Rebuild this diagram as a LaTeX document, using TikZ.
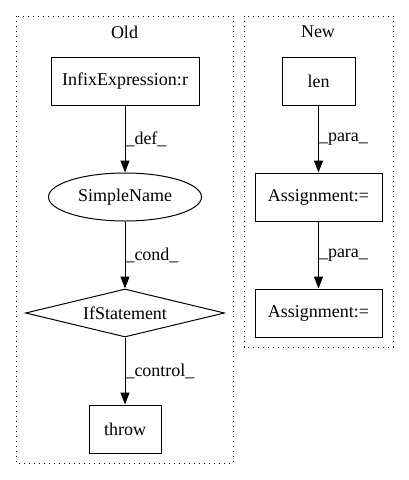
\documentclass[tikz,border=0pt]{standalone}
\usepackage{fontspec}
\setmainfont{Liberation Serif}
\usetikzlibrary{shapes.geometric,arrows.meta}
\begin{document}
\begin{tikzpicture}[x=1pt,y=-1pt,
  every node/.style={font=\fontsize{18pt}{20pt}\selectfont},
  box/.style={draw,line width=1pt,rectangle,minimum height=48pt,inner sep=0pt},
  oval/.style={draw,line width=1pt,ellipse,minimum width=153pt,minimum height=48pt,inner sep=0pt},
  dia/.style={draw,line width=1pt,diamond,aspect=4.15,minimum width=199pt,minimum height=48pt,inner sep=0pt},
  cluster/.style={line width=1pt,dash pattern=on 1.2pt off 3.8pt},
  edge/.style={line width=1pt,-{Triangle[length=12pt,width=9pt]}},
  elabel/.style={anchor=west,inner sep=0pt}]
\useasboundingbox (0,0) rectangle (408,480);
% clusters
\draw[cluster] (16,16) rectangle (233,463);
\draw[cluster] (244,16) rectangle (393,347);
\node (oldlbl) at (124.5,32) {Old};
\node (newlbl) at (318,32) {New};
% Old nodes
\node[box,minimum width=148pt] (infix) at (125,81) {InfixExpression:r};
\node[oval] (simple) at (125,197) {SimpleName};
\node[dia] (ifst) at (125,313) {IfStatement};
\node[box,minimum width=72pt] (throw) at (125,429) {throw};
% New nodes
\node[box,minimum width=73pt] (len) at (318.5,81) {len};
\node[box,minimum width=127pt] (asg1) at (318.5,197) {Assignment:=};
\node[box,minimum width=127pt] (asg2) at (318.5,313) {Assignment:=};
% edges
\draw[edge] (infix) -- (simple) node[pos=0.5,elabel] (l1) {\_def\_};
\draw[edge] (simple) -- (ifst) node[pos=0.5,elabel] (l2) {\_cond\_};
\draw[edge] (ifst) -- (throw) node[pos=0.5,elabel] (l3) {\_control\_};
\draw[edge] (len) -- (asg1) node[pos=0.5,elabel] (l4) {\_para\_};
\draw[edge] (asg1) -- (asg2) node[pos=0.5,elabel] (l5) {\_para\_};
\end{tikzpicture}
\end{document}
